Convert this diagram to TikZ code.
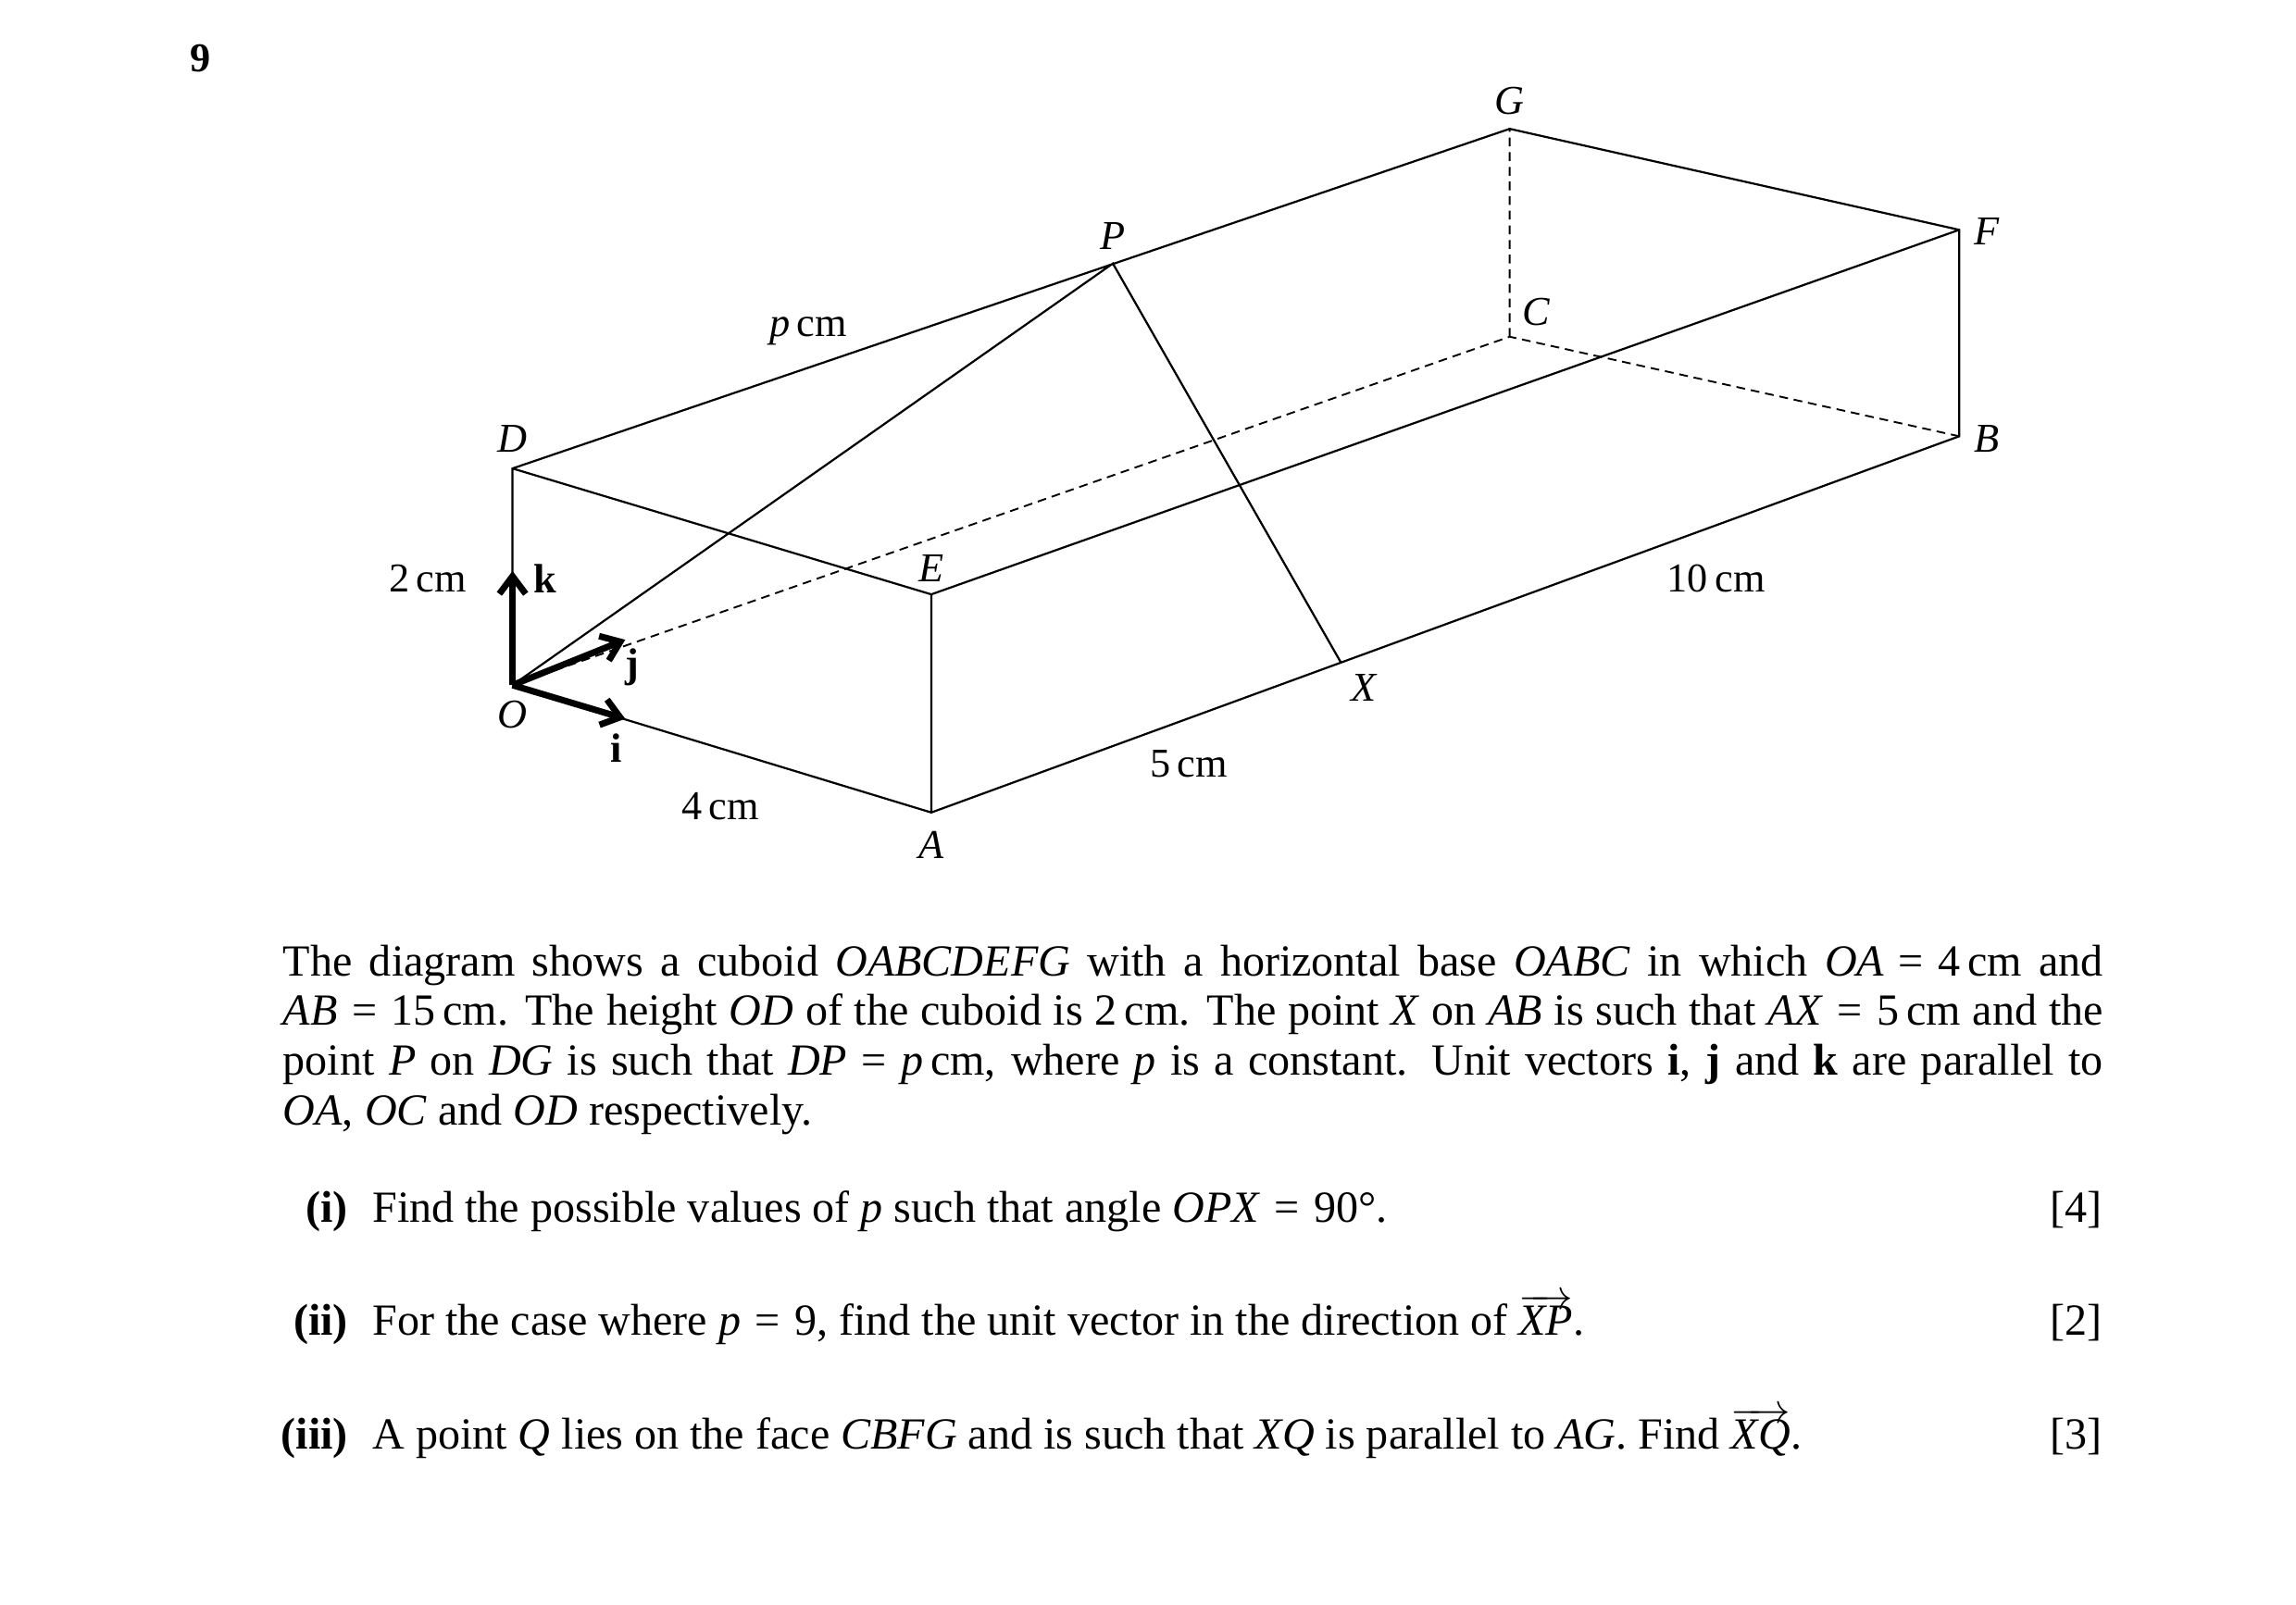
\documentclass[tikz,border=0pt]{standalone}
\usepackage{fontspec}
\setmainfont{Liberation Serif}
\usetikzlibrary{arrows.meta}
\newcommand{\myeq}{\nobreak\hspace{0.32em}=\nobreak\hspace{0.32em}\nobreak}
\begin{document}
\begin{tikzpicture}[x=0.5pt,y=-0.5pt,
  edge/.style={line width=0.7pt},
  hid/.style={line width=0.6pt,dash pattern=on 3pt off 2pt},
  vec/.style={line width=2.2pt,-{Straight Barb[length=6pt,width=9pt]}},
  lab/.style={font=\fontsize{14}{17}\selectfont},
  txt/.style={font=\fontsize{15.2}{17}\selectfont,inner sep=0pt},
  pt/.style={inner sep=0pt}]
\useasboundingbox (0,0) rectangle (1568,1096);
\node[font=\fontsize{14}{17}\selectfont\bfseries] (nine) at (137,40) {9};
\coordinate (O) at (350,468); \coordinate (A) at (636,555);
\coordinate (B) at (1338,298); \coordinate (C) at (1031,230);
\coordinate (D) at (350,320); \coordinate (E) at (636,406);
\coordinate (F) at (1338,157); \coordinate (G) at (1031,88);
\coordinate (P) at (760,180); \coordinate (X) at (916,453);
\coordinate (k) at (350,390); \coordinate (j) at (427,437); \coordinate (i) at (427,491);
\draw[edge] (O)--(A)--(B)--(F)--(G)--(D)--(O) (D)--(E)--(A) (E)--(F) (O)--(P)--(X);
\draw[hid] (O)--(C)--(B) (C)--(G);
\draw[vec] (O)--(k); \draw[vec] (O)--(j); \draw[vec] (O)--(i);
\foreach \n/\p/\t in {lG/{1031,69}/G, lP/{760,161}/P, lF/{1357,158}/F, lC/{1049,213}/C,
  lB/{1357,300}/B, lD/{350,300}/D, lE/{636,388}/E, lO/{350,488}/O, lA/{636,577}/A, lX/{932,470}/X}
  \node[lab] (\n) at (\p) {\textit{\t}};
\node[lab] (l2) at (292,395) {2\,cm};
\node[lab] (lk) at (372,395) {\textbf{k}};
\node[lab] (lj) at (432,456) {\textbf{j}};
\node[lab] (li) at (421,511) {\textbf{i}};
\node[lab] (l4) at (492,551) {4\,cm};
\node[lab] (l5) at (812,522) {5\,cm};
\node[lab] (l10) at (1172,395) {10\,cm};
\node[lab] (lp) at (552,226) {\textit{p}\,cm};
\node[txt,anchor=north west,text width=621.5pt,align=justify] (para) at (193,645)
 {The diagram shows a cuboid \textit{OABCDEFG} with a horizontal base \textit{OABC} in which \textit{OA}\myeq 4\,cm and\linebreak \textit{AB}\myeq 15\,cm. The height \textit{OD} of the cuboid is 2\,cm. The point \textit{X} on \textit{AB} is such that \textit{AX}\myeq 5\,cm and the\linebreak point \textit{P} on \textit{DG} is such that \textit{DP}\myeq \textit{p}\,cm, where \textit{p} is a constant. Unit vectors \textbf{i}, \textbf{j} and \textbf{k} are parallel to\linebreak \textit{OA}, \textit{OC} and \textit{OD} respectively.};
\node[txt,anchor=base east] (q1n) at (238,835) {\textbf{(i)}};
\node[txt,anchor=base west] (q1) at (254,835) {Find the possible values of \textit{p} such that angle \textit{OPX}\myeq 90°.};
\node[txt,anchor=base east] (m1) at (1436,835) {[4]};
\node[txt,anchor=base east] (q2n) at (238,912) {\textbf{(ii)}};
\node[txt,anchor=base west] (q2) at (254,912) {For the case where \textit{p}\myeq 9, find the unit vector in the direction of $\overrightarrow{\textit{XP}}$.};
\node[txt,anchor=base east] (m2) at (1436,912) {[2]};
\node[txt,anchor=base east] (q3n) at (238,990) {\textbf{(iii)}};
\node[txt,anchor=base west] (q3) at (254,990) {A point \textit{Q} lies on the face \textit{CBFG} and is such that \textit{XQ} is parallel to \textit{AG}. Find $\overrightarrow{\textit{XQ}}$.};
\node[txt,anchor=base east] (m3) at (1436,990) {[3]};
\end{tikzpicture}
\end{document}
